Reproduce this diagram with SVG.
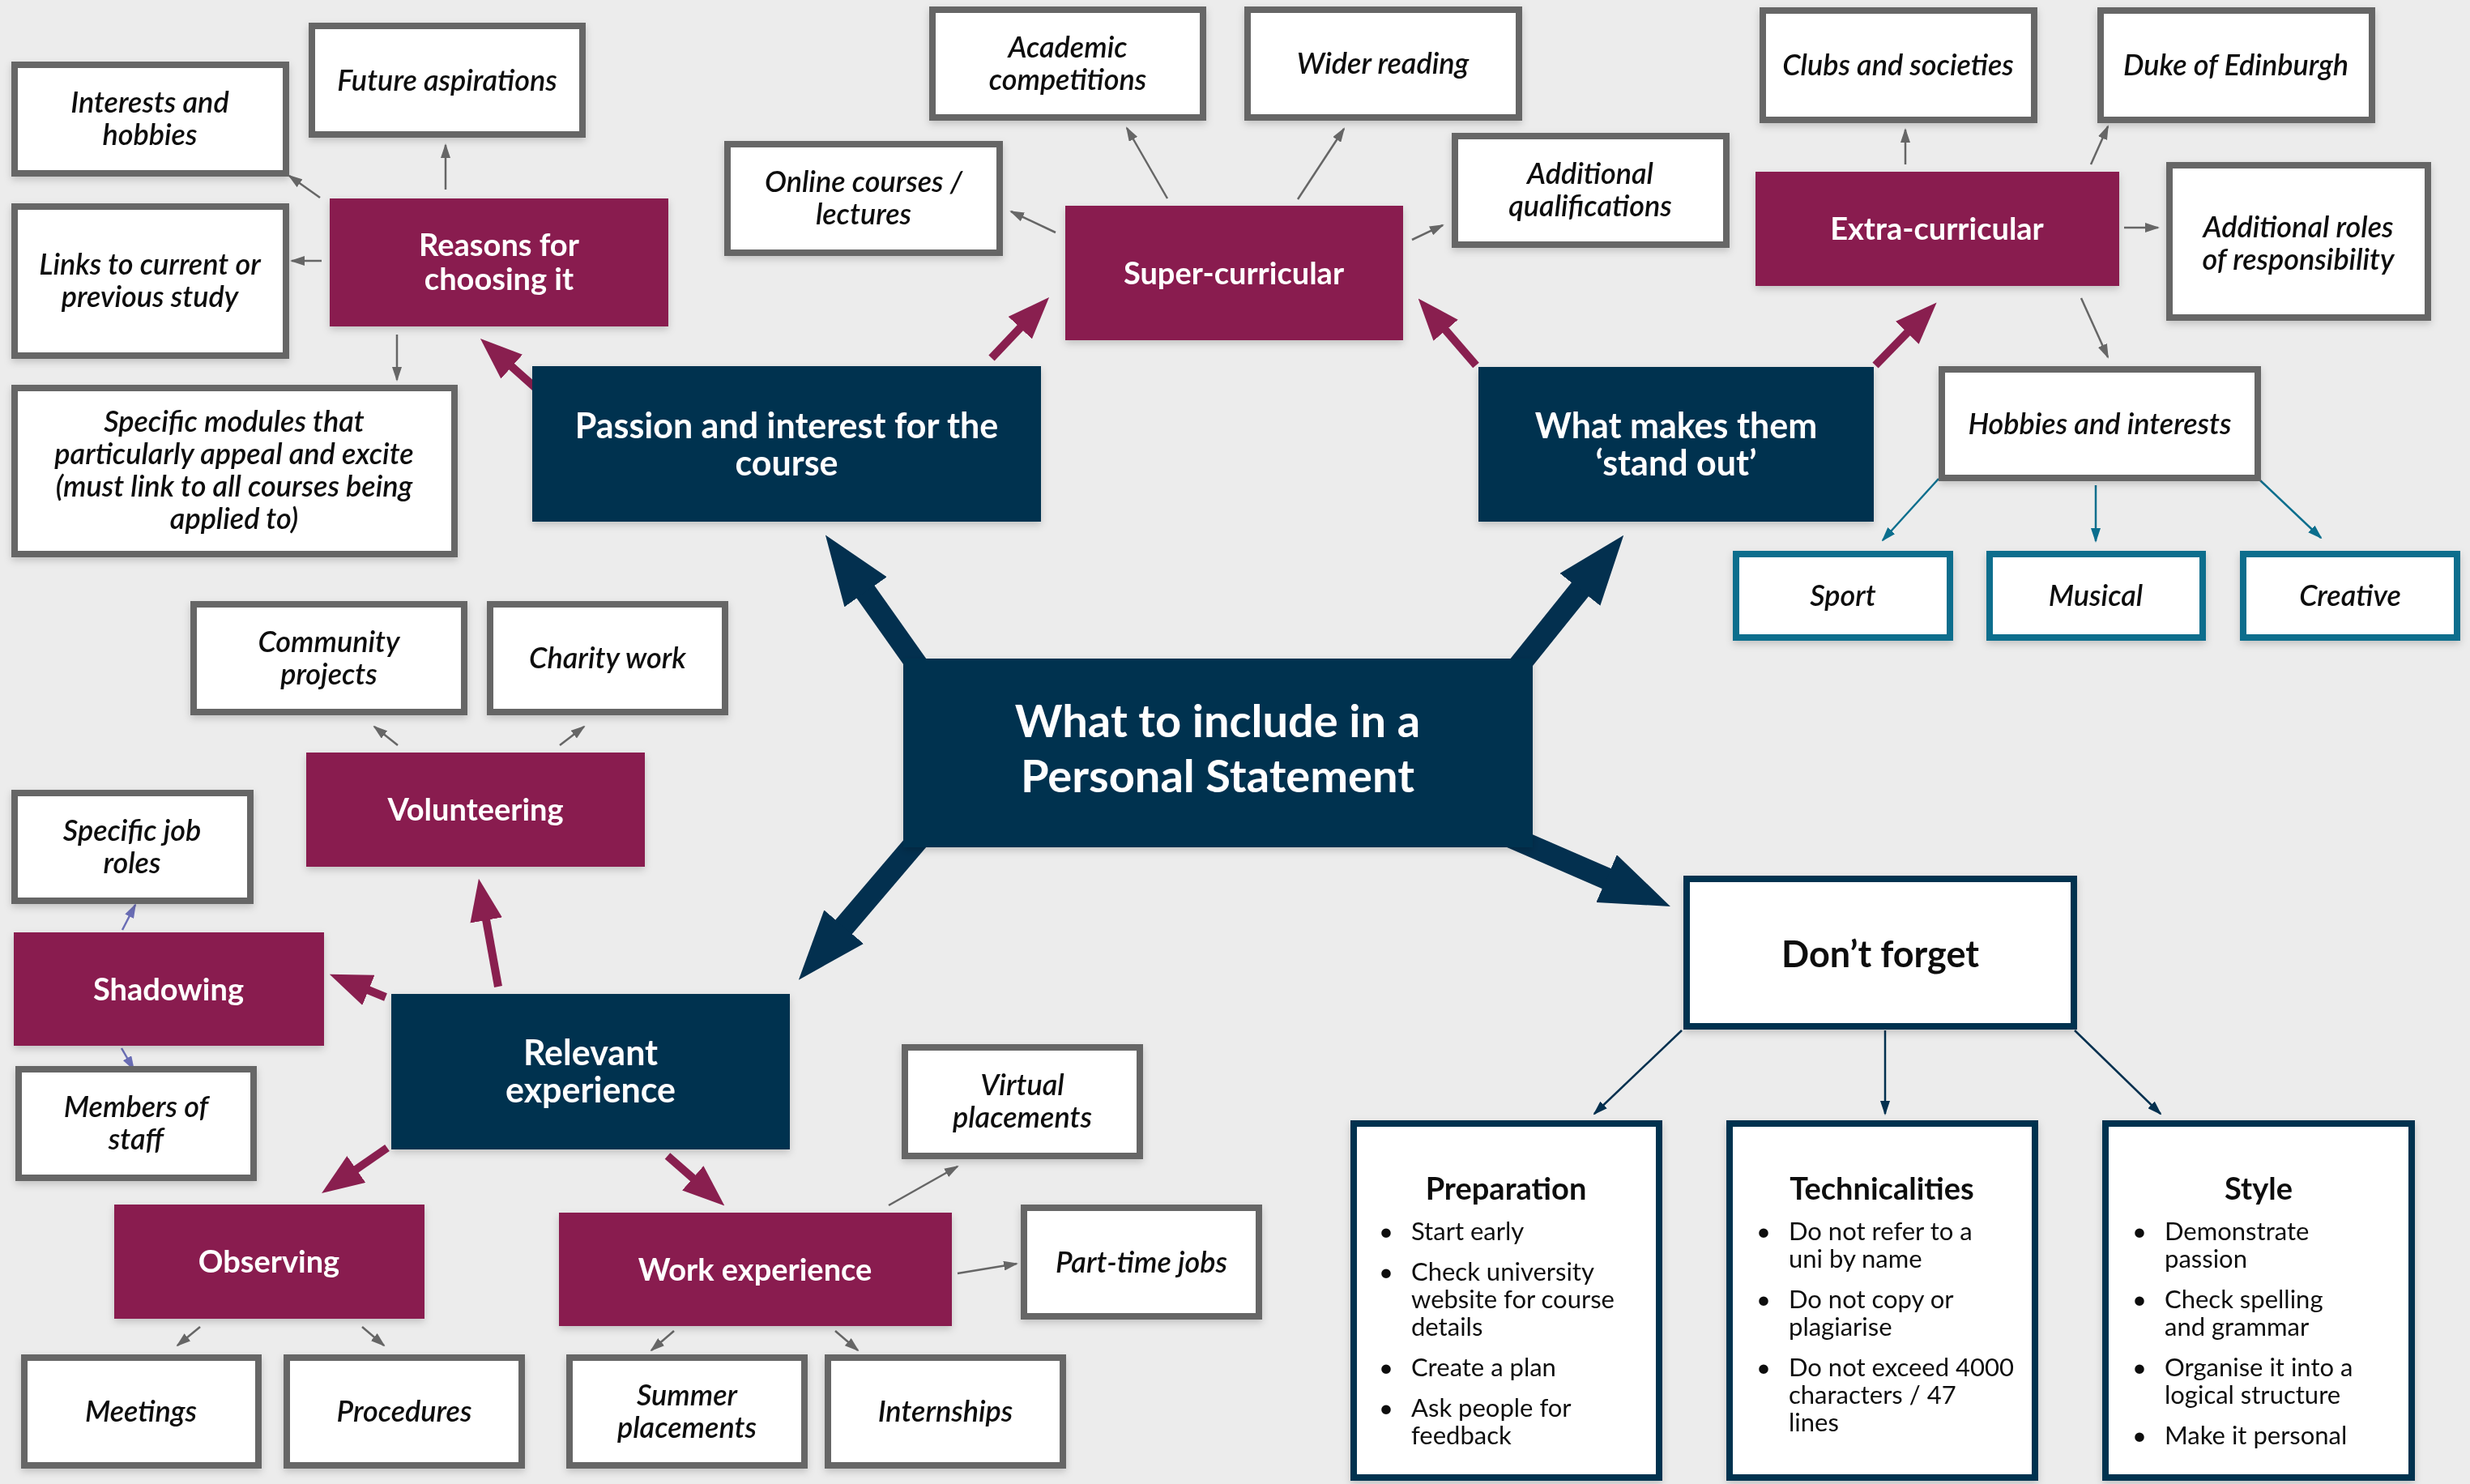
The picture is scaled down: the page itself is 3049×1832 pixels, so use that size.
<svg xmlns="http://www.w3.org/2000/svg" width="3049" height="1832" viewBox="0 0 3049 1832">
<defs>
<style>
.gbox{fill:#fff;stroke:#666;stroke-width:8}
.tbox{fill:#fff;stroke:#0b6e8d;stroke-width:8}
.nbox{fill:#fff;stroke:#03304f;stroke-width:8}
.mbox{fill:#891f4f}
.dbox{fill:#03304f}
text{font-family:Lato,"Noto Sans",sans-serif}
.it{font-style:italic;font-weight:600;font-size:36px;fill:#111;text-anchor:middle}
.wb{font-weight:700;font-size:38px;fill:#fff;text-anchor:middle}
.wn{font-weight:700;font-size:43px;fill:#fff;text-anchor:middle}
.hd{font-weight:700;font-size:38px;fill:#111;text-anchor:middle}
.bl{font-size:31px;fill:#111}
.g{stroke:#666;stroke-width:2.5;fill:none;marker-end:url(#hg)}
.v{stroke:#6a6db5;stroke-width:2.5;fill:none;marker-end:url(#hv)}
.t{stroke:#0b6e8d;stroke-width:2.5;fill:none;marker-end:url(#ht)}
.n{stroke:#03304f;stroke-width:2.5;fill:none;marker-end:url(#hn)}
.m{stroke:#891f4f;stroke-width:10;fill:none;marker-end:url(#hm)}
.d{stroke:#03304f;stroke-width:27;fill:none;marker-end:url(#hd)}
</style>
<marker id="hg" markerUnits="userSpaceOnUse" viewBox="0 0 18 12" markerWidth="18" markerHeight="12" refX="16" refY="6" orient="auto"><path d="M0,0L18,6L0,12z" fill="#666"/></marker>
<marker id="hv" markerUnits="userSpaceOnUse" viewBox="0 0 18 12" markerWidth="18" markerHeight="12" refX="16" refY="6" orient="auto"><path d="M0,0L18,6L0,12z" fill="#6a6db5"/></marker>
<marker id="ht" markerUnits="userSpaceOnUse" viewBox="0 0 18 12" markerWidth="18" markerHeight="12" refX="16" refY="6" orient="auto"><path d="M0,0L18,6L0,12z" fill="#0b6e8d"/></marker>
<marker id="hn" markerUnits="userSpaceOnUse" viewBox="0 0 18 12" markerWidth="18" markerHeight="12" refX="16" refY="6" orient="auto"><path d="M0,0L18,6L0,12z" fill="#03304f"/></marker>
<marker id="hm" markerUnits="userSpaceOnUse" viewBox="0 0 52 40" markerWidth="52" markerHeight="40" refX="1" refY="20" orient="auto"><path d="M0,0L52,20L0,40z" fill="#891f4f"/></marker>
<marker id="hd" markerUnits="userSpaceOnUse" viewBox="0 0 86 64" markerWidth="86" markerHeight="64" refX="1" refY="32" orient="auto"><path d="M0,0L86,32L0,64z" fill="#03304f"/></marker>
<filter id="sh" x="-10%" y="-10%" width="120%" height="130%"><feDropShadow dx="0" dy="4" stdDeviation="5" flood-color="#000" flood-opacity="0.18"/></filter>
</defs>
<rect width="3049" height="1832" fill="#ececec"/>

<g id="connectors">
<line class="d" x1="1150" y1="846" x2="1068" y2="730"/>
<line class="d" x1="1857" y1="844" x2="1951" y2="727"/>
<line class="d" x1="1151" y1="1016" x2="1041" y2="1145"/>
<line class="d" x1="1846" y1="1025" x2="1984" y2="1085"/>
<line class="m" x1="668" y1="485" x2="631" y2="452"/>
<line class="m" x1="1224" y1="442" x2="1260" y2="404"/>
<line class="m" x1="1822" y1="451" x2="1784" y2="407"/>
<line class="m" x1="2315" y1="451" x2="2355" y2="410"/>
<line class="m" x1="476" y1="1231" x2="454" y2="1222"/>
<line class="m" x1="615" y1="1218" x2="600" y2="1135"/>
<line class="m" x1="478" y1="1417" x2="439" y2="1444"/>
<line class="m" x1="824" y1="1427" x2="856" y2="1455"/>
<line class="g" x1="550" y1="234" x2="550" y2="179"/>
<line class="g" x1="395" y1="244" x2="357" y2="217"/>
<line class="g" x1="397" y1="322" x2="360" y2="322"/>
<line class="g" x1="490" y1="413" x2="490" y2="469"/>
<line class="g" x1="1303" y1="287" x2="1248" y2="261"/>
<line class="g" x1="1441" y1="245" x2="1391" y2="158"/>
<line class="g" x1="1602" y1="246" x2="1659" y2="159"/>
<line class="g" x1="1743" y1="296" x2="1781" y2="278"/>
<line class="g" x1="2352" y1="203" x2="2352" y2="160"/>
<line class="g" x1="2581" y1="203" x2="2602" y2="156"/>
<line class="g" x1="2622" y1="281" x2="2664" y2="281"/>
<line class="g" x1="2569" y1="368" x2="2602" y2="441"/>
<line class="g" x1="491" y1="920" x2="462" y2="897"/>
<line class="g" x1="691" y1="920" x2="721" y2="897"/>
<line class="g" x1="1097" y1="1488" x2="1182" y2="1440"/>
<line class="g" x1="1182" y1="1572" x2="1255" y2="1560"/>
<line class="g" x1="247" y1="1638" x2="219" y2="1661"/>
<line class="g" x1="447" y1="1638" x2="474" y2="1661"/>
<line class="g" x1="832" y1="1643" x2="804" y2="1667"/>
<line class="g" x1="1031" y1="1643" x2="1059" y2="1667"/>
<line class="v" x1="151" y1="1148" x2="167" y2="1117"/>
<line class="v" x1="150" y1="1294" x2="165" y2="1320"/>
<line class="t" x1="2393" y1="591" x2="2324" y2="667"/>
<line class="t" x1="2587" y1="599" x2="2587" y2="668"/>
<line class="t" x1="2790" y1="593" x2="2865" y2="664"/>
<line class="n" x1="2076" y1="1272" x2="1968" y2="1375"/>
<line class="n" x1="2327" y1="1272" x2="2327" y2="1375"/>
<line class="n" x1="2561" y1="1272" x2="2667" y2="1375"/>
</g>

<g id="center" filter="url(#sh)"><rect class="dbox" x="1115" y="813" width="777" height="233"/>
<text class="wn" style="font-size:56px" x="1503" y="910">What to include in a</text><text class="wn" style="font-size:56px" x="1503" y="978">Personal Statement</text></g>

<g id="passion" filter="url(#sh)"><rect class="dbox" x="657" y="452" width="628" height="192"/><text class="wn" x="971" y="541">Passion and interest for the</text><text class="wn" x="971" y="587">course</text></g>
<g id="standout" filter="url(#sh)"><rect class="dbox" x="1825" y="453" width="488" height="191"/><text class="wn" x="2069" y="541">What makes them</text><text class="wn" x="2069" y="587">‘stand out’</text></g>
<g id="relevant" filter="url(#sh)"><rect class="dbox" x="483" y="1227" width="492" height="192"/><text class="wn" x="729" y="1315">Relevant</text><text class="wn" x="729" y="1361">experience</text></g>

<g id="reasons" filter="url(#sh)"><rect class="mbox" x="407" y="245" width="418" height="158"/><text class="wb" x="616" y="316">Reasons for</text><text class="wb" x="616" y="358">choosing it</text></g>
<g id="supercurricular" filter="url(#sh)"><rect class="mbox" x="1315" y="254" width="417" height="166"/><text class="wb" x="1523" y="351">Super-curricular</text></g>
<g id="extracurricular" filter="url(#sh)"><rect class="mbox" x="2167" y="212" width="449" height="141"/><text class="wb" x="2391" y="296">Extra-curricular</text></g>
<g id="volunteering" filter="url(#sh)"><rect class="mbox" x="378" y="929" width="418" height="141"/><text class="wb" x="587" y="1013">Volunteering</text></g>
<g id="shadowing" filter="url(#sh)"><rect class="mbox" x="17" y="1151" width="383" height="140"/><text class="wb" x="208" y="1235">Shadowing</text></g>
<g id="observing" filter="url(#sh)"><rect class="mbox" x="141" y="1487" width="383" height="141"/><text class="wb" x="332" y="1571">Observing</text></g>
<g id="workexperience" filter="url(#sh)"><rect class="mbox" x="690" y="1497" width="485" height="140"/><text class="wb" x="932" y="1581">Work experience</text></g>

<g id="interests" filter="url(#sh)"><rect class="gbox" x="18" y="80" width="335" height="134"/><text class="it" x="185" y="139">Interests and</text><text class="it" x="185" y="179">hobbies</text></g>
<g id="future" filter="url(#sh)"><rect class="gbox" x="385" y="32" width="334" height="134"/><text class="it" x="552" y="112">Future aspirations</text></g>
<g id="links" filter="url(#sh)"><rect class="gbox" x="18" y="255" width="335" height="184"/><text class="it" x="185" y="339">Links to current or</text><text class="it" x="185" y="379">previous study</text></g>
<g id="modules" filter="url(#sh)"><rect class="gbox" x="18" y="479" width="543" height="205"/><text class="it" x="289" y="533">Specific modules that</text><text class="it" x="289" y="573">particularly appeal and excite</text><text class="it" x="289" y="613">(must link to all courses being</text><text class="it" x="289" y="653">applied to)</text></g>
<g id="online" filter="url(#sh)"><rect class="gbox" x="898" y="178" width="336" height="134"/><text class="it" x="1066" y="237">Online courses /</text><text class="it" x="1066" y="277">lectures</text></g>
<g id="academic" filter="url(#sh)"><rect class="gbox" x="1151" y="12" width="334" height="133"/><text class="it" x="1318" y="71">Academic</text><text class="it" x="1318" y="111">competitions</text></g>
<g id="wider" filter="url(#sh)"><rect class="gbox" x="1540" y="12" width="335" height="133"/><text class="it" x="1707" y="91">Wider reading</text></g>
<g id="addqual" filter="url(#sh)"><rect class="gbox" x="1796" y="168" width="335" height="134"/><text class="it" x="1963" y="227">Additional</text><text class="it" x="1963" y="267">qualifications</text></g>
<g id="clubs" filter="url(#sh)"><rect class="gbox" x="2176" y="13" width="335" height="135"/><text class="it" x="2343" y="93">Clubs and societies</text></g>
<g id="duke" filter="url(#sh)"><rect class="gbox" x="2593" y="13" width="335" height="135"/><text class="it" x="2760" y="93">Duke of Edinburgh</text></g>
<g id="roles" filter="url(#sh)"><rect class="gbox" x="2678" y="204" width="319" height="188"/><text class="it" x="2837" y="293">Additional roles</text><text class="it" x="2837" y="333">of responsibility</text></g>
<g id="hobbies" filter="url(#sh)"><rect class="gbox" x="2397" y="456" width="390" height="134"/><text class="it" x="2592" y="536">Hobbies and interests</text></g>
<g id="sport" filter="url(#sh)"><rect class="tbox" x="2143" y="684" width="264" height="103"/><text class="it" x="2275" y="748">Sport</text></g>
<g id="musical" filter="url(#sh)"><rect class="tbox" x="2456" y="684" width="263" height="103"/><text class="it" x="2587" y="748">Musical</text></g>
<g id="creative" filter="url(#sh)"><rect class="tbox" x="2769" y="684" width="264" height="103"/><text class="it" x="2901" y="748">Creative</text></g>
<g id="community" filter="url(#sh)"><rect class="gbox" x="239" y="746" width="334" height="133"/><text class="it" x="406" y="805">Community</text><text class="it" x="406" y="845">projects</text></g>
<g id="charity" filter="url(#sh)"><rect class="gbox" x="605" y="746" width="290" height="133"/><text class="it" x="750" y="825">Charity work</text></g>
<g id="jobroles" filter="url(#sh)"><rect class="gbox" x="18" y="979" width="291" height="133"/><text class="it" x="163" y="1038">Specific job</text><text class="it" x="163" y="1078">roles</text></g>
<g id="staff" filter="url(#sh)"><rect class="gbox" x="23" y="1320" width="290" height="134"/><text class="it" x="168" y="1379">Members of</text><text class="it" x="168" y="1419">staff</text></g>
<g id="virtual" filter="url(#sh)"><rect class="gbox" x="1117" y="1293" width="290" height="134"/><text class="it" x="1262" y="1352">Virtual</text><text class="it" x="1262" y="1392">placements</text></g>
<g id="parttime" filter="url(#sh)"><rect class="gbox" x="1264" y="1491" width="290" height="134"/><text class="it" x="1409" y="1571">Part-time jobs</text></g>
<g id="meetings" filter="url(#sh)"><rect class="gbox" x="30" y="1676" width="289" height="133"/><text class="it" x="174" y="1755">Meetings</text></g>
<g id="procedures" filter="url(#sh)"><rect class="gbox" x="354" y="1676" width="290" height="133"/><text class="it" x="499" y="1755">Procedures</text></g>
<g id="summer" filter="url(#sh)"><rect class="gbox" x="703" y="1676" width="290" height="133"/><text class="it" x="848" y="1735">Summer</text><text class="it" x="848" y="1775">placements</text></g>
<g id="internships" filter="url(#sh)"><rect class="gbox" x="1022" y="1676" width="290" height="133"/><text class="it" x="1167" y="1755">Internships</text></g>

<g id="dontforget" filter="url(#sh)"><rect class="nbox" x="2082" y="1085" width="478" height="182"/><text class="hd" style="font-size:45px" x="2321" y="1194">Don’t forget</text></g>
<g id="preparation" filter="url(#sh)"><rect class="nbox" x="1671" y="1387" width="377" height="437"/><text class="hd" x="1859" y="1481">Preparation</text>
<text class="bl" x="1702" y="1531">•</text><text class="bl" x="1742" y="1531">Start early</text>
<text class="bl" x="1702" y="1581">•</text><text class="bl" x="1742" y="1581">Check university</text><text class="bl" x="1742" y="1615">website for course</text><text class="bl" x="1742" y="1649">details</text>
<text class="bl" x="1702" y="1699">•</text><text class="bl" x="1742" y="1699">Create a plan</text>
<text class="bl" x="1702" y="1749">•</text><text class="bl" x="1742" y="1749">Ask people for</text><text class="bl" x="1742" y="1783">feedback</text></g>
<g id="technicalities" filter="url(#sh)"><rect class="nbox" x="2135" y="1387" width="377" height="437"/><text class="hd" x="2323" y="1481">Technicalities</text>
<text class="bl" x="2168" y="1531">•</text><text class="bl" x="2208" y="1531">Do not refer to a</text><text class="bl" x="2208" y="1565">uni by name</text>
<text class="bl" x="2168" y="1615">•</text><text class="bl" x="2208" y="1615">Do not copy or</text><text class="bl" x="2208" y="1649">plagiarise</text>
<text class="bl" x="2168" y="1699">•</text><text class="bl" x="2208" y="1699">Do not exceed 4000</text><text class="bl" x="2208" y="1733">characters / 47</text><text class="bl" x="2208" y="1767">lines</text></g>
<g id="style" filter="url(#sh)"><rect class="nbox" x="2599" y="1387" width="378" height="437"/><text class="hd" x="2788" y="1481">Style</text>
<text class="bl" x="2632" y="1531">•</text><text class="bl" x="2672" y="1531">Demonstrate</text><text class="bl" x="2672" y="1565">passion</text>
<text class="bl" x="2632" y="1615">•</text><text class="bl" x="2672" y="1615">Check spelling</text><text class="bl" x="2672" y="1649">and grammar</text>
<text class="bl" x="2632" y="1699">•</text><text class="bl" x="2672" y="1699">Organise it into a</text><text class="bl" x="2672" y="1733">logical structure</text>
<text class="bl" x="2632" y="1783">•</text><text class="bl" x="2672" y="1783">Make it personal</text></g>
</svg>
